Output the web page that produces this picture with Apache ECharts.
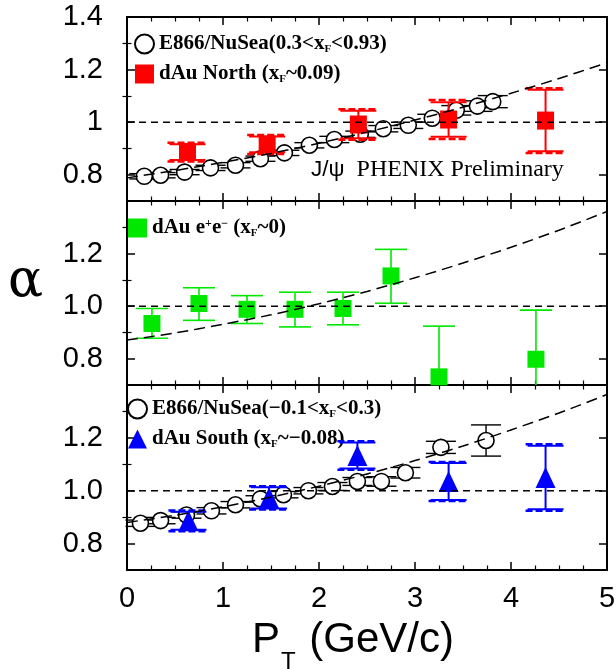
<!DOCTYPE html>
<html>
<head>
<meta charset="utf-8">
<script src="https://cdn.jsdelivr.net/npm/echarts@6/dist/echarts.min.js"></script>
<style>
  html, body { margin: 0; padding: 0; background: #fff; }
  #chart { width: 616px; height: 669px; }
</style>
</head>
<body>
<div id="chart"></div>
<script>
// ---- E866/NuSea, 0.3 < xF < 0.93 (top panel) ----
const e866FwdPt    = [0.18, 0.35, 0.60, 0.87, 1.13, 1.39, 1.64, 1.90, 2.16, 2.43, 2.67, 2.93, 3.18, 3.43, 3.65, 3.81];
const e866FwdAlpha = [0.794, 0.798, 0.810, 0.826, 0.836, 0.861, 0.883, 0.912, 0.934, 0.954, 0.975, 0.988, 1.015, 1.045, 1.061, 1.078];
const e866FwdErr   = [0.010, 0.010, 0.010, 0.010, 0.010, 0.010, 0.010, 0.010, 0.012, 0.012, 0.012, 0.012, 0.015, 0.018, 0.020, 0.023];

// ---- PHENIX dAu North, xF ~ 0.09 ----
const northPt    = [0.63, 1.46, 2.41, 3.35, 4.36];
const northAlpha = [0.886, 0.915, 0.991, 1.010, 1.006];
const northStat  = [0.030, 0.030, 0.052, 0.066, 0.117];
const northSys   = [0.036, 0.036, 0.058, 0.074, 0.123];

// ---- PHENIX dAu e+e-, xF ~ 0 (middle panel) ----
const eePt     = [0.26, 0.75, 1.25, 1.75, 2.25, 2.75, 3.25, 4.26];
const eeAlpha  = [0.934, 1.010, 0.988, 0.988, 0.991, 1.115, 0.731, 0.798];
const eeErrUp  = [0.057, 0.060, 0.052, 0.065, 0.062, 0.101, 0.193, 0.187];
const eeErrLow = [0.056, 0.064, 0.054, 0.067, 0.062, 0.104, 0.200, 0.190];

// ---- E866/NuSea, -0.1 < xF < 0.3 (bottom panel) ----
const e866MidPt    = [0.14, 0.35, 0.62, 0.88, 1.13, 1.39, 1.63, 1.89, 2.14, 2.40, 2.65, 2.90, 3.27, 3.74];
const e866MidAlpha = [0.877, 0.887, 0.908, 0.924, 0.947, 0.969, 0.985, 1.000, 1.016, 1.035, 1.035, 1.068, 1.164, 1.190];
const e866MidErr   = [0.012, 0.012, 0.012, 0.012, 0.012, 0.012, 0.012, 0.012, 0.015, 0.015, 0.018, 0.020, 0.023, 0.059];

// ---- PHENIX dAu South, xF ~ -0.08 ----
const southPt    = [0.64, 1.48, 2.40, 3.35, 4.36];
const southAlpha = [0.886, 0.973, 1.133, 1.035, 1.050];
const southStat  = [0.034, 0.040, 0.049, 0.070, 0.120];
const southSys   = [0.039, 0.044, 0.054, 0.074, 0.126];

// ---- dashed fit curves through the E866 points ----
const fitPt       = [0, 0.5, 1, 1.5, 2, 2.5, 3, 3.5, 4, 4.5, 5];
const fitFwdAlpha = [0.788, 0.816, 0.847, 0.881, 0.920, 0.962, 1.008, 1.057, 1.110, 1.166, 1.226];
const fitEeAlpha  = [0.871, 0.898, 0.931, 0.967, 1.009, 1.056, 1.108, 1.164, 1.224, 1.289, 1.360];
const fitMidAlpha = [0.880, 0.907, 0.939, 0.976, 1.017, 1.063, 1.114, 1.169, 1.230, 1.294, 1.364];

// ---- axes ----
const ptRange    = [0, 5];
const alphaRange = [0.7, 1.4];
const alphaMajor = [0.8, 1.0, 1.2, 1.4];
const alphaMinor = [0.9, 1.1, 1.3];
const labelsTop  = [0.8, 1.0, 1.2, 1.4];
const labelsRest = [0.8, 1.0, 1.2];
const unity = 1;

const RED = '#ff0000', GREEN = '#00e800', BLUE = '#0000ff';
const SANS = 'Liberation Sans', SERIF = 'Liberation Serif';

const zip = (...cols) => cols[0].map((_, i) => cols.map(c => c[i]));
const band = (pt, a, lo, hi) => pt.map((p, i) => [p, a[i] - lo[i], a[i] + hi[i]]);

// vertical error bar with caps; clipped to the panel
function errorBar(capHalf, color, width, stem, dash) {
  return function (params, api) {
    const cs = params.coordSys;
    const x = api.value(0);
    const pHi = api.coord([x, api.value(2)]);
    const pLo = api.coord([x, api.value(1)]);
    const yTop = cs.y, yBot = cs.y + cs.height;
    const clamp = v => Math.max(yTop, Math.min(yBot, v));
    const kids = [];
    const style = { stroke: color, lineWidth: width, lineDash: dash || null };
    if (stem) {
      kids.push({ type: 'line', shape: { x1: pHi[0], y1: clamp(pHi[1]), x2: pHi[0], y2: clamp(pLo[1]) },
                  style: { stroke: color, lineWidth: width } });
    }
    [pHi[1], pLo[1]].forEach(y => {
      if (y >= yTop - 0.5 && y <= yBot + 0.5) {
        kids.push({ type: 'line', shape: { x1: pHi[0] - capHalf, y1: y, x2: pHi[0] + capHalf, y2: y }, style });
      }
    });
    return { type: 'group', children: kids };
  };
}

const grids = [
  { left: 127, width: 480, top: 17,  height: 184, outerBoundsMode: 'none', containLabel: false },
  { left: 127, width: 480, top: 201, height: 184, outerBoundsMode: 'none', containLabel: false },
  { left: 127, width: 480, top: 385, height: 185, outerBoundsMode: 'none', containLabel: false }
];

const frameLine = { show: true, onZero: false, lineStyle: { color: '#000', width: 2 } };

function xAxesFor(g) {
  const base = {
    type: 'value', gridIndex: g, min: ptRange[0], max: ptRange[1], interval: 1,
    axisLine: frameLine,
    axisTick: { show: true, inside: true, length: 8, lineStyle: { color: '#000', width: 1.5 } },
    minorTick: { show: true, splitNumber: 4, length: 4.5, lineStyle: { color: '#000', width: 1.2 } },
    splitLine: { show: false }, minorSplitLine: { show: false }
  };
  const bottom = Object.assign({}, base, {
    position: 'bottom',
    axisLabel: { show: g === 2, fontFamily: SANS, fontSize: 29, color: '#000', margin: 14 }
  });
  if (g === 2) {
    Object.assign(bottom, {
      name: '{p|P}{t|T}{p| (GeV/c)}',
      nameLocation: 'middle', nameGap: 49,
      nameTextStyle: {
        padding: [0, 28, 0, 0],
        rich: {
          p: { fontFamily: SANS, fontSize: 42, color: '#000', lineHeight: 42 },
          t: { fontFamily: SANS, fontSize: 24, color: '#000', verticalAlign: 'bottom', lineHeight: 14, padding: [0, 2, -13, 1] }
        }
      }
    });
  }
  const top = Object.assign({}, base, { position: 'top', axisLabel: { show: false } });
  return [bottom, top];
}

function yAxesFor(g) {
  const labels = g === 0 ? labelsTop : labelsRest;
  const fmt = g === 0 ? (v => (Math.abs(v - 1) < 1e-9 ? '1' : v.toFixed(1))) : (v => v.toFixed(1));
  const base = {
    type: 'value', gridIndex: g, min: alphaRange[0], max: alphaRange[1], offset: 0,
    axisLine: frameLine, splitLine: { show: false }
  };
  const major = (pos, showLabel) => Object.assign({}, base, {
    position: pos,
    axisTick: { show: true, inside: true, length: 8, customValues: alphaMajor, lineStyle: { color: '#000', width: 1.5 } },
    axisLabel: showLabel
      ? { show: true, customValues: labels, formatter: fmt, fontFamily: SANS, fontSize: 29, color: '#000', margin: 24 }
      : { show: false }
  });
  const minor = pos => Object.assign({}, base, {
    position: pos,
    axisLine: { show: false },
    axisTick: { show: true, inside: true, length: 4.5, customValues: alphaMinor, lineStyle: { color: '#000', width: 1.2 } },
    axisLabel: { show: false }
  });
  return [major('left', true), minor('left'), major('right', false), minor('right')];
}

const xAxis = [].concat(xAxesFor(0), xAxesFor(1), xAxesFor(2));
const yAxis = [].concat(yAxesFor(0), yAxesFor(1), yAxesFor(2));
const on = g => ({ xAxisIndex: g * 2, yAxisIndex: g * 4 });

function unityLine(g) {
  return Object.assign({
    type: 'line', data: [[ptRange[0], unity], [ptRange[1], unity]], symbol: 'none', silent: true, z: 6,
    lineStyle: { color: '#000', width: 1.5, type: [7, 5] }
  }, on(g));
}
function fitLine(g, vals) {
  return Object.assign({
    type: 'line', data: zip(fitPt, vals), symbol: 'none', smooth: 0.3, silent: true, z: 6,
    lineStyle: { color: '#000', width: 1.5, type: [11, 6] }
  }, on(g));
}
function bars(g, data, capHalf, color, width, stem, dash, z) {
  return Object.assign({
    type: 'custom', data, renderItem: errorBar(capHalf, color, width, stem, dash),
    encode: { x: 0, y: [1, 2] }, silent: true, z
  }, on(g));
}
function points(g, name, pt, alpha, symbol, size, style) {
  return Object.assign({
    type: 'scatter', name, data: zip(pt, alpha), symbol, symbolSize: size,
    itemStyle: Object.assign({ opacity: 1 }, style), z: symbol === 'circle' ? 3 : 5
  }, on(g));
}

const NAME_FWD = 'E866 fwd', NAME_NORTH = 'dAu North', NAME_EE = 'dAu ee', NAME_MID = 'E866 mid', NAME_SOUTH = 'dAu South';
const legendText = {
  [NAME_FWD]:   '{n|E866/NuSea(0.3<x}{s|F}{n|<0.93)}',
  [NAME_NORTH]: '{n|dAu North (x}{s|F}{n|~0.09)}',
  [NAME_EE]:    '{n|dAu e}{u|+}{n|e}{u|\u2212}{n| (x}{s|F}{n|~0)}',
  [NAME_MID]:   '{n|E866/NuSea(\u22120.1<x}{s|F}{n|<0.3)}',
  [NAME_SOUTH]: '{n|dAu South (x}{s|F}{n|~\u22120.08)}'
};
const legendRich = {
  n: { fontFamily: SERIF, fontWeight: 'bold', fontSize: 21, color: '#000', lineHeight: 21, padding: [4, 0, 5, 0] },
  s: { fontFamily: SERIF, fontWeight: 'bold', fontSize: 11, color: '#000', lineHeight: 9, verticalAlign: 'bottom' },
  u: { fontFamily: SERIF, fontWeight: 'bold', fontSize: 12, color: '#000', lineHeight: 10, verticalAlign: 'top' }
};
function legend(left, top, names, gap) {
  return {
    left, top, orient: 'vertical', data: names, selectedMode: false, padding: 0,
    itemWidth: 19, itemHeight: 19, itemGap: gap,
    formatter: n => legendText[n],
    textStyle: { rich: legendRich }
  };
}

const openCircle = { color: '#fff', borderColor: '#000', borderWidth: 1.6 };

const option = {
  animation: false,
  backgroundColor: '#fff',
  grid: grids,
  xAxis, yAxis,
  legend: [
    legend(134, 29, [NAME_FWD, NAME_NORTH], 0),
    legend(128, 213, [NAME_EE], 0),
    legend(127, 394, [NAME_MID, NAME_SOUTH], 0)
  ],
  graphic: [
    {
      type: 'text', left: 8, top: 256,
      style: { text: '\u03b1', fontFamily: 'DejaVu Serif', fontSize: 52, fill: '#000' }
    },
    {
      type: 'text', left: 311, top: 158,
      style: {
        text: '{a|J/\u03c8}{b|  PHENIX Preliminary}',
        rich: {
          a: { fontFamily: SANS, fontSize: 22.5, fill: '#000' },
          b: { fontFamily: SERIF, fontSize: 24, fill: '#000' }
        }
      }
    }
  ],
  series: [
    // top panel
    bars(0, band(e866FwdPt, e866FwdAlpha, e866FwdErr, e866FwdErr), 15, '#000', 1.4, true, null, 2),
    points(0, NAME_FWD, e866FwdPt, e866FwdAlpha, 'circle', 16, openCircle),
    bars(0, band(northPt, northAlpha, northStat, northStat), 18, RED, 2, true, null, 4),
    bars(0, band(northPt, northAlpha, northSys, northSys), 20, RED, 2.5, false, [7, 3], 4),
    points(0, NAME_NORTH, northPt, northAlpha, 'rect', [17, 18], { color: RED }),
    unityLine(0), fitLine(0, fitFwdAlpha),

    // middle panel
    bars(1, band(eePt, eeAlpha, eeErrLow, eeErrUp), 16, GREEN, 1.6, true, null, 4),
    points(1, NAME_EE, eePt, eeAlpha, 'rect', [17, 17], { color: GREEN }),
    unityLine(1), fitLine(1, fitEeAlpha),

    // bottom panel
    bars(2, band(e866MidPt, e866MidAlpha, e866MidErr, e866MidErr), 15, '#000', 1.4, true, null, 2),
    points(2, NAME_MID, e866MidPt, e866MidAlpha, 'circle', 16, openCircle),
    bars(2, band(southPt, southAlpha, southStat, southStat), 18, BLUE, 2, true, null, 4),
    bars(2, band(southPt, southAlpha, southSys, southSys), 20, BLUE, 2.5, false, [7, 3], 4),
    points(2, NAME_SOUTH, southPt, southAlpha, 'triangle', [20, 21], { color: BLUE }),
    unityLine(2), fitLine(2, fitMidAlpha)
  ]
};

const chart = echarts.init(document.getElementById('chart'), null, { renderer: 'canvas' });
chart.setOption(option);
</script>
</body>
</html>
